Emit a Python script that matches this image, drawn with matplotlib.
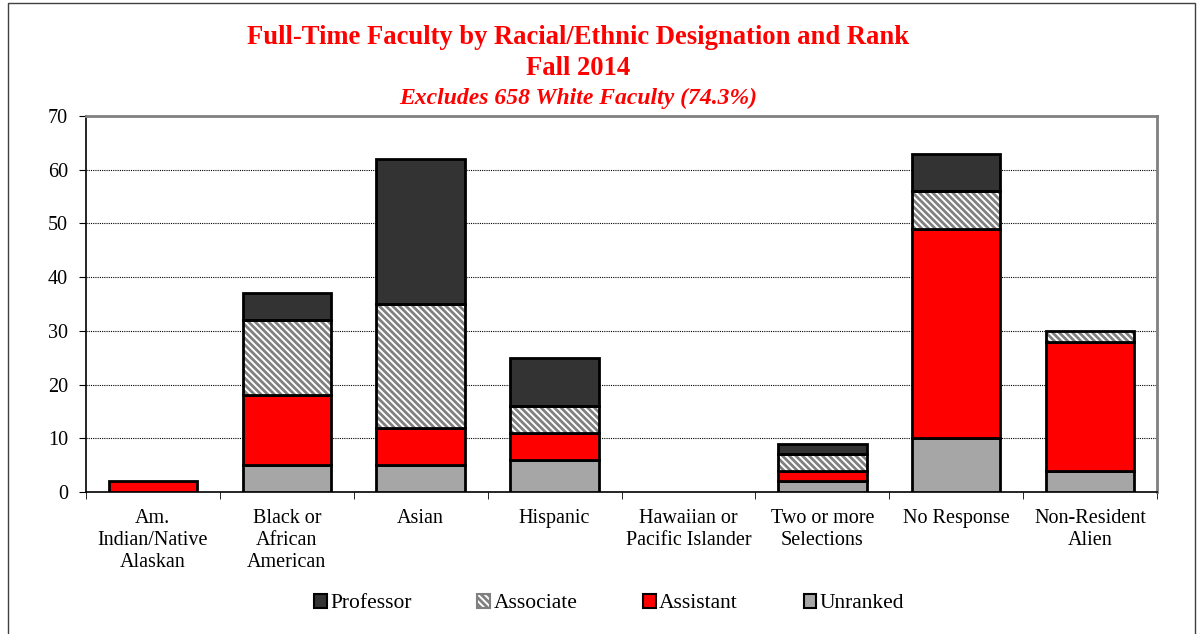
import matplotlib
matplotlib.use("Agg")
import matplotlib.pyplot as plt
from matplotlib.patches import Rectangle, Patch
import numpy as np

categories = ["Am.\nIndian/Native\nAlaskan", "Black or\nAfrican\nAmerican", "Asian", "Hispanic",
              "Hawaiian or\nPacific Islander", "Two or more\nSelections", "No Response", "Non-Resident\nAlien"]
unranked = [0, 5, 5, 6, 0, 2, 10, 4]
assistant = [2, 13, 7, 5, 0, 2, 39, 24]
associate = [0, 14, 23, 5, 0, 3, 7, 2]
professor = [0, 5, 27, 9, 0, 2, 7, 0]
yticks = [0, 10, 20, 30, 40, 50, 60, 70]

plt.rcParams['font.family'] = ['Liberation Serif', 'DejaVu Serif']
plt.rcParams['hatch.linewidth'] = 2.0

HATCH = '\\' * 5

fig = plt.figure(figsize=(11.99, 6.34), dpi=100)
ax = fig.add_axes([0.0717, 0.224, 0.8933, 0.593])

x = np.arange(len(categories))
w = 0.66
u = np.array(unranked); a = np.array(assistant); s = np.array(associate); p = np.array(professor)

def draw(vals, bottom, color, hatch=None):
    for xi, v, b in zip(x, vals, bottom):
        if v <= 0:
            continue
        if hatch:
            ax.bar(xi, v, w, bottom=b, color='white', edgecolor='#808080', hatch=hatch, linewidth=0, zorder=3)
            ax.bar(xi, v, w, bottom=b, fill=False, edgecolor='black', linewidth=2, zorder=4)
        else:
            ax.bar(xi, v, w, bottom=b, color=color, edgecolor='black', linewidth=2, zorder=3)

draw(u, np.zeros(len(x)), '#a6a6a6')
draw(a, u, '#ff0000')
draw(s, u + a, None, hatch=HATCH)
draw(p, u + a + s, '#333333')

ax.set_xlim(-0.5, len(x) - 0.5)
ax.set_ylim(0, 70)
ax.set_yticks(yticks)
ax.set_yticklabels([str(t) for t in yticks], fontsize=14.5)
ax.set_xticks(x)
ax.set_xticklabels(categories, fontsize=14.5, linespacing=1.2)
ax.tick_params(axis='x', length=0, pad=12.5)
ax.set_xticks(np.arange(-0.5, len(x), 1), minor=True)
ax.tick_params(axis='x', which='minor', length=5, color='black')
ax.tick_params(axis='y', length=5, color='black', pad=8)
for t in yticks[1:-1]:
    ax.axhline(t, color='black', linestyle=(0, (1, 1)), linewidth=0.8, zorder=1)
ax.spines['left'].set_color('black')
ax.spines['bottom'].set_color('black')
ax.spines['left'].set_linewidth(1.2)
ax.spines['bottom'].set_linewidth(1.2)
ax.spines['top'].set_color('#808080')
ax.spines['right'].set_color('#808080')
ax.spines['top'].set_linewidth(2)
ax.spines['right'].set_linewidth(2)

fig.text(0.482, 0.941, "Full-Time Faculty by Racial/Ethnic Designation and Rank", color='red',
         fontsize=19.2, fontweight='bold', ha='center', va='center')
fig.text(0.482, 0.892, "Fall 2014", color='red', fontsize=19.2, fontweight='bold', ha='center', va='center')
fig.text(0.482, 0.845, "Excludes 658 White Faculty (74.3%)", color='red', fontsize=17,
         fontweight='bold', style='italic', ha='center', va='center')

handles = [Patch(facecolor='#333333', edgecolor='black', linewidth=1.5),
           Patch(facecolor='white', edgecolor='#808080', hatch=HATCH, linewidth=1.5),
           Patch(facecolor='#ff0000', edgecolor='black', linewidth=1.5),
           Patch(facecolor='#a6a6a6', edgecolor='black', linewidth=1.5)]
fig.legend(handles, ["Professor", "Associate", "Assistant", "Unranked"], ncol=4, frameon=False,
           loc='center', bbox_to_anchor=(0.508, 0.048), fontsize=15.5, handlelength=0.6, handleheight=0.6,
           handletextpad=0.15, columnspacing=3.05)

fig.patches.append(Rectangle((0.007, -0.01), 0.99, 1.005, transform=fig.transFigure, fill=False,
                             edgecolor='#404040', linewidth=1))

fig.savefig("out.png", dpi=100)
